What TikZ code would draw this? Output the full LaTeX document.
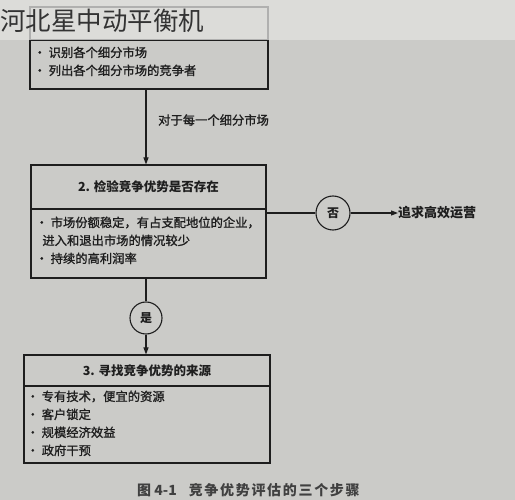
\documentclass[tikz,border=0pt]{standalone}
\usepackage{fontspec}
\setmainfont{Noto Sans CJK SC}
\newfontfamily\cjk{Noto Sans CJK SC}
\newfontfamily\cjkmed[FakeBold=1.2]{Noto Sans CJK SC}
\usetikzlibrary{arrows.meta,calc}
\definecolor{paper}{RGB}{203,203,200}
\definecolor{band}{RGB}{226,226,224}
\definecolor{ink}{RGB}{30,30,30}
\tikzset{
  boxpart/.style={draw=ink,line width=1.1pt,rectangle,inner sep=0pt},
  ttl/.style={font=\fontsize{12.5}{14}\selectfont\bfseries,text=ink},
  bodytext/.style={font=\cjkmed\fontsize{12.3}{18}\selectfont,text=ink,align=left,anchor=north west,inner sep=0pt},
  flow/.style={draw=ink,line width=1.1pt},
  arr/.style={flow,-{Triangle[length=7pt,width=5pt]}},
  decision/.style={draw=ink,line width=1.1pt,circle,inner sep=0pt,font=\fontsize{12}{14}\selectfont\bfseries,text=ink},
}
\begin{document}
\begin{tikzpicture}[x=1pt,y=-1pt]
\useasboundingbox (0,0) rectangle (515,500);
\fill[paper] (0,0) rectangle (515,500);
% box 1
\node[boxpart,minimum width=238pt,minimum height=33pt] (b1t) at (149,23.5) {};
\node[boxpart,minimum width=238pt,minimum height=49pt] (b1b) at (149,64.5) {};
\node[bodytext] (b1x) at ($(b1b.north west)+(4,7)$) {· 识别各个细分市场\\· 列出各个细分市场的竞争者};
% top band overlay
\fill[band,opacity=0.75] (0,0) rectangle (515,40);
\node[anchor=west,inner sep=0pt,font=\fontsize{25.5}{28}\selectfont,text=black!80] (wm) at (0,21) {河北星中动平衡机};
% box 2
\node[boxpart,minimum width=235pt,minimum height=44pt] (b2t) at (148.5,187) {};
\node[ttl] (b2l) at (b2t.center) {2. 检验竞争优势是否存在};
\node[boxpart,minimum width=235pt,minimum height=69pt] (b2b) at (148.5,243.5) {};
\node[bodytext] (b2x) at ($(b2b.north west)+(5,8)$) {· 市场份额稳定，有占支配地位的企业，\\\hspace*{0.55em}进入和退出市场的情况较少\\· 持续的高利润率};
% box 3
\node[boxpart,minimum width=246pt,minimum height=31pt] (b3t) at (147,370.5) {};
\node[ttl] (b3l) at (b3t.center) {3. 寻找竞争优势的来源};
\node[boxpart,minimum width=246pt,minimum height=77pt] (b3b) at (147,424.5) {};
\node[bodytext] (b3x) at ($(b3b.north west)+(3,5)$) {· 专有技术，便宜的资源\\· 客户锁定\\· 规模经济效益\\· 政府干预};
% decisions
\node[decision,minimum size=32pt] (yes) at (146,318) {是};
\node[decision,minimum size=34pt] (no) at (333,213) {否};
\node[anchor=west,inner sep=0pt,font=\fontsize{13}{14}\selectfont\bfseries,text=ink] (goal) at (398,213) {追求高效运营};
\coordinate (ax) at (146,0);
\draw[arr] (ax |- b1b.south) -- (ax |- b2t.north);
\node[anchor=west,inner sep=0pt,font=\cjkmed\fontsize{12.3}{14}\selectfont,text=ink] (lab) at (158,120) {对于每一个细分市场};
\draw[flow] (ax |- b2b.south) -- (yes.north);
\draw[arr] (yes.south) -- (ax |- b3t.north);
\draw[flow] (b2t.south east |- no.west) -- (no.west);
\draw[arr] (no.east) -- (goal.west);
% caption
\node[anchor=west,inner sep=0pt,font=\fontsize{14}{15}\selectfont\bfseries,text=ink!85] (cap) at (137,490) {图 4-1\hspace{12pt}{\addfontfeatures{LetterSpace=12}竞争优势评估的三个步骤}};
\end{tikzpicture}
\end{document}
